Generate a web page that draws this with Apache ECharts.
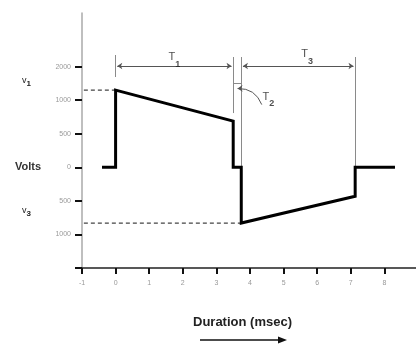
<!DOCTYPE html>
<html><head><meta charset="utf-8">
<script src="https://cdn.jsdelivr.net/npm/echarts@6/dist/echarts.min.js"></script>
<style>html,body{margin:0;padding:0;background:#fff}#c{width:416px;height:345px}</style>
</head><body><div id="c"></div>
<script>
// Data
var xTicks = [-1,0,1,2,3,4,5,6,7,8,9];
var yTickValues = [-1500,-1000,-500,0,500,1000,1500];
var yTickLabels = ['', '1000', '500', '0', '500', '1000', '2000'];
var waveT = [-0.36, 0, 0, 3.5, 3.5, 3.74, 3.74, 7.13, 7.13, 8.27];
var waveV = [0, 0, 1150, 690, 0, 0, -830, -430, 0, 0];
var v1 = 1150, v3 = -830;
var tEdges = [0, 3.5, 3.74, 7.13];

var chart = echarts.init(document.getElementById('c'), null, {renderer:'canvas'});
var wave = waveT.map(function(t,i){return [t, waveV[i]];});
var gray = '#8a8a8a';
var labelMap = {};
yTickValues.forEach(function(v,i){labelMap[v]=yTickLabels[i];});

var dimTop = 1644, arrowY = 1510;
var option = {
  animation:false,
  grid:{left:82, right:-2, top:13, bottom:77, containLabel:false, outerBoundsMode:'none'},
  xAxis:{type:'value', min:-1, max:9, interval:1,
    axisLine:{onZero:false, lineStyle:{color:'#222', width:1.5}},
    axisTick:{show:true, length:6, lineStyle:{color:'#111', width:2}},
    axisLabel:{color:'#999', fontSize:7, margin:12, fontFamily:'Liberation Sans'},
    splitLine:{show:false}},
  yAxis:{type:'value', min:-1500, max:2300,
    axisLine:{show:true, onZero:false, lineStyle:{color:'#aaa', width:1.5}},
    axisTick:{show:true, customValues:yTickValues, length:7, lineStyle:{color:'#111', width:2}},
    axisLabel:{customValues:yTickValues.slice(1), color:'#999', fontSize:7, margin:11, fontFamily:'Liberation Sans',
      formatter:function(v){return labelMap[v]!==undefined?labelMap[v]:'';}},
    splitLine:{show:false}},
  series:[
    {type:'line', data:[[-2.82,v1],[0,v1]], clip:false, symbol:'none', z:1,
      lineStyle:{color:'#444', width:1.2, type:[4,3]}},
    {type:'line', data:[[-2.82,v3],[3.74,v3]], clip:false, symbol:'none', z:1,
      lineStyle:{color:'#444', width:1.2, type:[4,3]}},
    // dimension verticals
    {type:'lines', coordinateSystem:'cartesian2d', z:2, symbol:'none',
      lineStyle:{color:gray, width:1, opacity:1},
      data:[
        {coords:[[tEdges[0],1674],[tEdges[0],1346]]},
        {coords:[[tEdges[1],dimTop],[tEdges[1],809]]},
        {coords:[[tEdges[2],dimTop],[tEdges[2],v3]]},
        {coords:[[tEdges[3],dimTop],[tEdges[3],0]]},
        {coords:[[tEdges[1],1260],[tEdges[2],1260]]}
      ]},
    // dimension arrows
    {type:'lines', coordinateSystem:'cartesian2d', z:2, symbol:['arrow','arrow'], symbolSize:5,
      lineStyle:{color:'#555', width:1, opacity:1},
      data:[
        {coords:[[tEdges[0]+0.05,arrowY],[tEdges[1]-0.05,arrowY]]},
        {coords:[[tEdges[2]+0.05,arrowY],[tEdges[3]-0.05,arrowY]]}
      ]},
    {type:'lines', coordinateSystem:'cartesian2d', z:2, symbol:['none','arrow'], symbolSize:5,
      lineStyle:{color:'#555', width:1, opacity:1, curveness:-0.35},
      data:[{coords:[[4.35,935],[3.63,1175]]}]},
    // labels T1 T2 T3
    {type:'scatter', symbolSize:0, z:3, silent:true,
      data:[
        {value:[1.75,1620], name:'1'},
        {value:[5.7,1660], name:'3'},
        {value:[4.55,1030], name:'2'}
      ],
      label:{show:true, position:'inside', formatter:function(p){return '{t|T}{s|'+p.name+'}';},
        rich:{t:{fontSize:11, color:'#222', fontFamily:'Liberation Sans', lineHeight:14, verticalAlign:'top'},
              s:{fontSize:9, color:'#222', fontFamily:'Liberation Sans', fontWeight:'bold', lineHeight:14, padding:[8,0,0,0], verticalAlign:'top'}}}},
    // waveform
    {type:'line', data:wave, symbol:'none', z:5,
      lineStyle:{color:'#000', width:3, join:'miter', cap:'square'}}
  ],
  graphic:[
    {type:'text', left:15, top:161, style:{text:'Volts', fontSize:11, fontFamily:'Liberation Sans', fontWeight:'bold', fill:'#333'}},
    {type:'text', left:22, top:76, style:{text:'{t|v}{s|1}', rich:{t:{fontSize:9, fill:'#222', fontFamily:'Liberation Sans'}, s:{fontSize:8, fontWeight:'bold', fill:'#222', fontFamily:'Liberation Sans', padding:[6,0,0,0]}}}},
    {type:'text', left:22, top:206, style:{text:'{t|v}{s|3}', rich:{t:{fontSize:9, fill:'#222', fontFamily:'Liberation Sans'}, s:{fontSize:8, fontWeight:'bold', fill:'#222', fontFamily:'Liberation Sans', padding:[6,0,0,0]}}}},
    {type:'text', left:193, top:316, style:{text:'Duration (msec)', fontSize:13, fontFamily:'Liberation Sans', fontWeight:'bold', fill:'#222'}},
    {type:'line', shape:{x1:200, y1:340, x2:280, y2:340}, style:{stroke:'#111', lineWidth:1.5}},
    {type:'polygon', shape:{points:[[287,340],[278,336.5],[278,343.5]]}, style:{fill:'#111'}}
  ]
};
chart.setOption(option);
</script></body></html>
